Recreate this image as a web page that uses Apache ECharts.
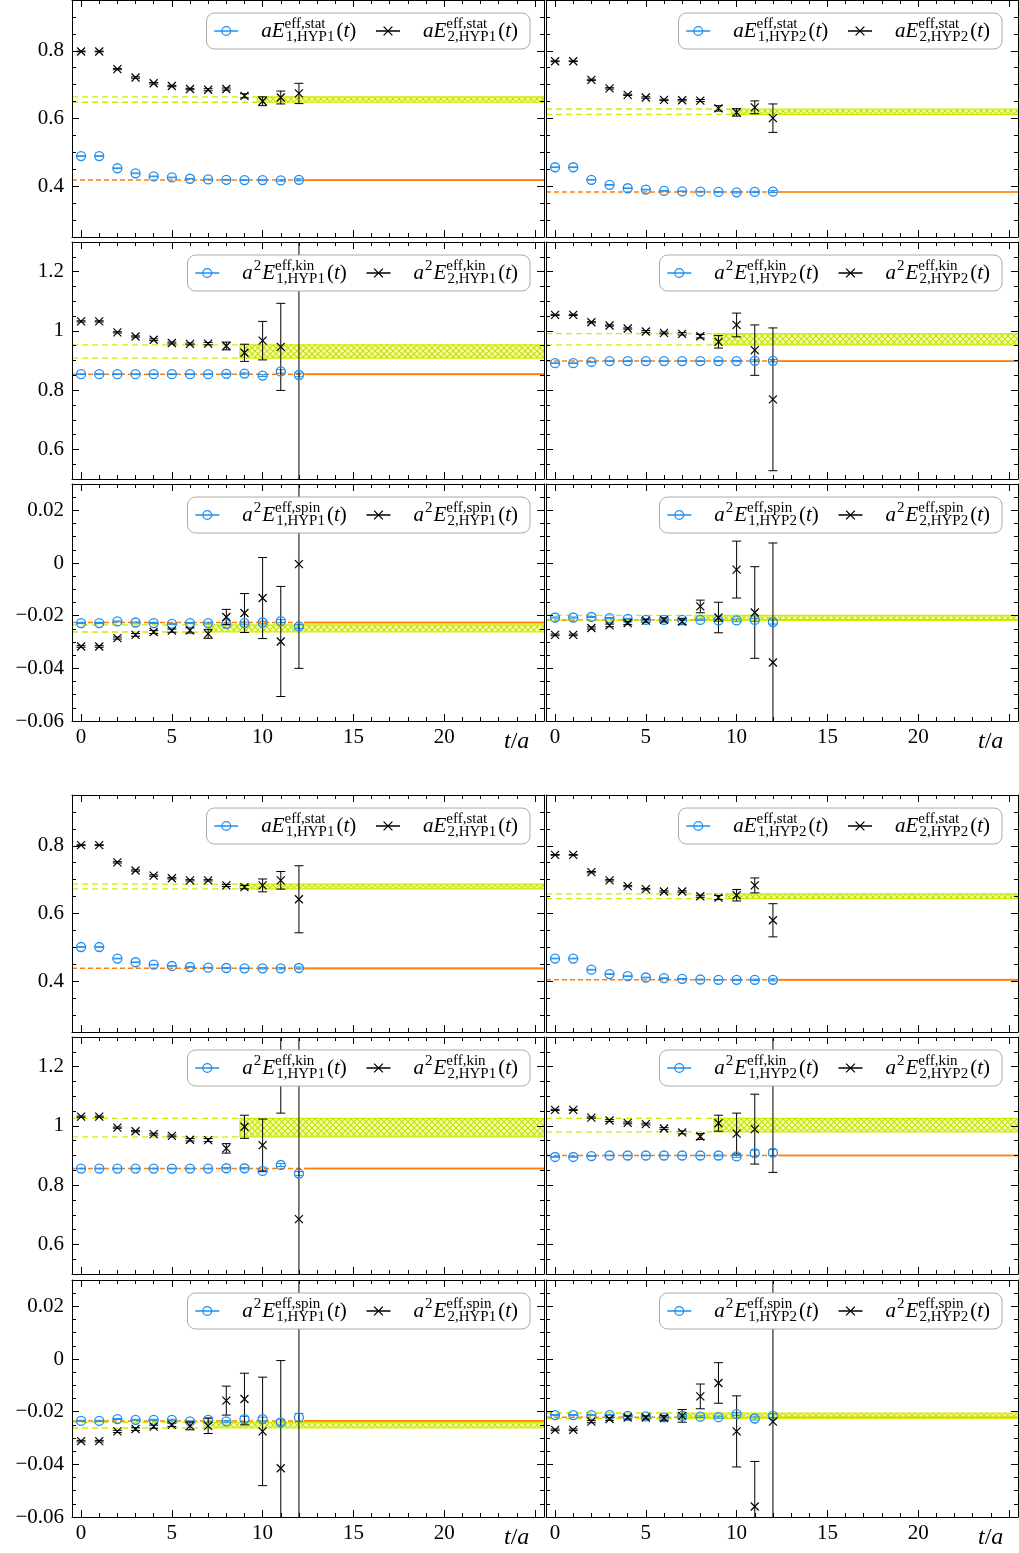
<!DOCTYPE html>
<html>
<head>
<meta charset="utf-8">
<title>Effective energies</title>
<script src="https://cdn.jsdelivr.net/npm/echarts@6.0.0/dist/echarts.min.js"></script>
<style>
html,body{margin:0;padding:0;background:#fff;}
#chart{width:1019px;height:1553px;}
</style>
</head>
<body>
<div id="chart"></div>
<script>
// ---------------- data ----------------
const T = [0,1,2,3,4,5,6,7,8,9,10,11,12];
const xMajor = [0,5,10,15,20,25];
const xMinor = [1,2,3,4,6,7,8,9,11,12,13,14,16,17,18,19,21,22,23,24];
const xLabels = [0,5,10,15,20];
const yStatMajor = [0.4,0.6,0.8];
const yStatMinor = [0.3,0.35,0.45,0.5,0.55,0.65,0.7,0.75,0.85,0.9];
const yKinMajor = [0.6,0.8,1.0,1.2];
const yKinMinor = [0.55,0.65,0.7,0.75,0.85,0.9,0.95,1.05,1.1,1.15,1.25];
const ySpinMajor = [-0.06,-0.04,-0.02,0,0.02];
const ySpinMinor = [-0.055,-0.05,-0.045,-0.035,-0.03,-0.025,-0.015,-0.01,-0.005,0.005,0.01,0.015,0.025];

// fits: [start t, centre, low, high]
// ---- upper set ----
const U_statH1_E1    = [0.489,0.489,0.453,0.438,0.429,0.426,0.422,0.420,0.419,0.418,0.418,0.417,0.419];
const U_statH1_E1err = [0.001,0.001,0.001,0.001,0.001,0.001,0.001,0.001,0.001,0.001,0.002,0.002,0.003];
const U_statH1_E2    = [0.798,0.798,0.746,0.721,0.704,0.696,0.687,0.685,0.687,0.667,0.651,0.662,0.674];
const U_statH1_E2err = [0.001,0.001,0.002,0.002,0.002,0.002,0.002,0.003,0.003,0.006,0.013,0.019,0.030];
const U_statH1_fit1  = [12.3, 0.418, 0.417, 0.419];
const U_statH1_fit2  = [9.7, 0.656, 0.648, 0.664];

const U_statH2_E1    = [0.456,0.456,0.419,0.404,0.394,0.390,0.386,0.385,0.384,0.383,0.382,0.383,0.384];
const U_statH2_E1err = [0.001,0.001,0.001,0.001,0.001,0.001,0.001,0.001,0.001,0.001,0.002,0.002,0.003];
const U_statH2_E2    = [0.769,0.769,0.714,0.689,0.670,0.662,0.655,0.654,0.653,0.630,0.618,0.633,0.601];
const U_statH2_E2err = [0.001,0.001,0.002,0.002,0.002,0.002,0.002,0.002,0.003,0.008,0.011,0.019,0.042];
const U_statH2_fit1  = [12.3, 0.383, 0.382, 0.384];
const U_statH2_fit2  = [9.7, 0.620, 0.612, 0.628];

const U_kinH1_E1     = [0.854,0.854,0.854,0.854,0.854,0.854,0.854,0.854,0.855,0.856,0.849,0.863,0.851];
const U_kinH1_E1err  = [0.001,0.001,0.001,0.001,0.001,0.001,0.001,0.001,0.002,0.002,0.003,0.006,0.006];
const U_kinH1_E2     = [1.032,1.032,0.995,0.981,0.970,0.959,0.956,0.957,0.949,0.926,0.967,0.946,1.190];
const U_kinH1_E2err  = [0.002,0.002,0.002,0.002,0.003,0.003,0.003,0.004,0.013,0.029,0.065,0.147,0.750];
const U_kinH1_fit1   = [12.3, 0.854, 0.853, 0.855];
const U_kinH1_fit2   = [8.75, 0.930, 0.908, 0.953];

const U_kinH2_E1     = [0.891,0.891,0.895,0.898,0.898,0.898,0.898,0.898,0.898,0.898,0.898,0.899,0.899];
const U_kinH2_E1err  = [0.001,0.001,0.001,0.001,0.001,0.001,0.001,0.001,0.001,0.002,0.002,0.003,0.004];
const U_kinH2_E2     = [1.054,1.054,1.029,1.018,1.008,0.998,0.993,0.990,0.982,0.963,1.020,0.935,0.769];
const U_kinH2_E2err  = [0.002,0.002,0.002,0.002,0.002,0.003,0.003,0.004,0.006,0.021,0.040,0.085,0.241];
const U_kinH2_fit1   = [12.3, 0.898, 0.897, 0.899];
const U_kinH2_fit2   = [8.75, 0.972, 0.953, 0.991];

const U_spinH1_E1    = [-0.0228,-0.0228,-0.0222,-0.0226,-0.0228,-0.0231,-0.0228,-0.0228,-0.0231,-0.0228,-0.0226,-0.0221,-0.0241];
const U_spinH1_E1err = [0.0002,0.0002,0.0002,0.0002,0.0002,0.0002,0.0002,0.0003,0.0003,0.0004,0.0005,0.0006,0.0008];
const U_spinH1_E2    = [-0.0317,-0.0317,-0.0285,-0.0273,-0.0262,-0.0257,-0.0256,-0.0269,-0.0205,-0.0190,-0.0133,-0.0298,-0.0004];
const U_spinH1_E2err = [0.0003,0.0003,0.0004,0.0005,0.0006,0.0006,0.0010,0.0017,0.0029,0.0074,0.0154,0.0209,0.0396];
const U_spinH1_fit1  = [12.3, -0.0226, -0.0229, -0.0223];
const U_spinH1_fit2  = [7.0, -0.0249, -0.0262, -0.0235];

const U_spinH2_E1    = [-0.0207,-0.0207,-0.0205,-0.0209,-0.0212,-0.0216,-0.0216,-0.0216,-0.0216,-0.0218,-0.0218,-0.0216,-0.0224];
const U_spinH2_E1err = [0.0002,0.0002,0.0002,0.0002,0.0002,0.0002,0.0002,0.0003,0.0003,0.0004,0.0005,0.0006,0.0008];
const U_spinH2_E2    = [-0.0273,-0.0273,-0.0247,-0.0237,-0.0228,-0.0219,-0.0216,-0.0222,-0.0165,-0.0207,-0.0025,-0.0188,-0.0378];
const U_spinH2_E2err = [0.0003,0.0003,0.0004,0.0005,0.0006,0.0006,0.0008,0.0012,0.0024,0.0058,0.0108,0.0174,0.0454];
const U_spinH2_fit1  = [12.3, -0.0216, -0.0218, -0.0214];
const U_spinH2_fit2  = [7.7, -0.0209, -0.0218, -0.0199];

// ---- lower set ----
const L_statH1_E1    = [0.501,0.501,0.467,0.456,0.449,0.445,0.442,0.440,0.439,0.438,0.438,0.438,0.439];
const L_statH1_E1err = [0.001,0.001,0.001,0.001,0.001,0.001,0.001,0.001,0.001,0.001,0.002,0.002,0.003];
const L_statH1_E2    = [0.802,0.802,0.751,0.727,0.712,0.704,0.698,0.698,0.683,0.678,0.683,0.698,0.642];
const L_statH1_E2err = [0.001,0.001,0.002,0.002,0.002,0.002,0.002,0.002,0.003,0.005,0.019,0.026,0.099];
const L_statH1_fit1  = [12.3, 0.438, 0.437, 0.439];
const L_statH1_fit2  = [8.75, 0.680, 0.673, 0.687];

const L_statH2_E1    = [0.467,0.467,0.434,0.421,0.415,0.411,0.409,0.407,0.405,0.404,0.404,0.404,0.404];
const L_statH2_E1err = [0.001,0.001,0.001,0.001,0.001,0.001,0.001,0.001,0.001,0.001,0.002,0.002,0.003];
const L_statH2_E2    = [0.773,0.773,0.722,0.698,0.681,0.672,0.665,0.665,0.651,0.647,0.654,0.683,0.580];
const L_statH2_E2err = [0.001,0.001,0.002,0.002,0.002,0.002,0.002,0.002,0.003,0.006,0.017,0.022,0.049];
const L_statH2_fit1  = [12.3, 0.404, 0.403, 0.405];
const L_statH2_fit2  = [9.4, 0.651, 0.644, 0.658];

const L_kinH1_E1     = [0.856,0.856,0.856,0.856,0.856,0.856,0.856,0.856,0.857,0.857,0.848,0.868,0.839];
const L_kinH1_E1err  = [0.001,0.001,0.001,0.001,0.001,0.001,0.001,0.001,0.002,0.002,0.003,0.005,0.007];
const L_kinH1_E2     = [1.031,1.031,0.994,0.982,0.972,0.966,0.953,0.952,0.924,0.997,0.935,1.200,0.685];
const L_kinH1_E2err  = [0.002,0.002,0.002,0.002,0.003,0.003,0.004,0.005,0.016,0.039,0.088,0.157,0.750];
const L_kinH1_fit1   = [12.3, 0.856, 0.855, 0.857];
const L_kinH1_fit2   = [8.75, 0.994, 0.963, 1.025];

const L_kinH2_E1     = [0.895,0.895,0.898,0.900,0.900,0.900,0.900,0.900,0.900,0.900,0.897,0.908,0.910];
const L_kinH2_E1err  = [0.001,0.001,0.001,0.001,0.001,0.001,0.001,0.001,0.001,0.002,0.003,0.010,0.010];
const L_kinH2_E2     = [1.054,1.054,1.028,1.018,1.010,1.006,0.991,0.978,0.964,1.009,0.974,0.989,1.190];
const L_kinH2_E2err  = [0.002,0.002,0.002,0.003,0.003,0.003,0.003,0.005,0.010,0.027,0.069,0.118,0.347];
const L_kinH2_fit1   = [12.3, 0.900, 0.899, 0.901];
const L_kinH2_fit2   = [8.75, 1.0025, 0.980, 1.025];

const L_spinH1_E1    = [-0.0235,-0.0235,-0.0228,-0.0231,-0.0231,-0.0231,-0.0237,-0.0231,-0.0237,-0.0228,-0.0228,-0.0241,-0.0222];
const L_spinH1_E1err = [0.0002,0.0002,0.0002,0.0002,0.0002,0.0002,0.0002,0.0008,0.0003,0.0010,0.0007,0.0010,0.0015];
const L_spinH1_E2    = [-0.0312,-0.0312,-0.0275,-0.0266,-0.0257,-0.0250,-0.0254,-0.0254,-0.0158,-0.0152,-0.0275,-0.0415,0.0180];
const L_spinH1_E2err = [0.0003,0.0003,0.0004,0.0005,0.0006,0.0006,0.0015,0.0029,0.0055,0.0098,0.0206,0.0409,0.1000];
const L_spinH1_fit1  = [12.3, -0.0235, -0.0237, -0.0233];
const L_spinH1_fit2  = [6.75, -0.0252, -0.0262, -0.0241];

const L_spinH2_E1    = [-0.0213,-0.0213,-0.0213,-0.0213,-0.0216,-0.0218,-0.0222,-0.0216,-0.0219,-0.0221,-0.0209,-0.0226,-0.0216];
const L_spinH2_E1err = [0.0002,0.0002,0.0002,0.0002,0.0002,0.0002,0.0002,0.0003,0.0003,0.0004,0.0005,0.0006,0.0008];
const L_spinH2_E2    = [-0.0269,-0.0269,-0.0238,-0.0228,-0.0222,-0.0222,-0.0224,-0.0216,-0.0142,-0.0091,-0.0275,-0.0560,-0.0238];
const L_spinH2_E2err = [0.0003,0.0003,0.0004,0.0005,0.0006,0.0006,0.0010,0.0024,0.0047,0.0077,0.0135,0.0171,0.2000];
const L_spinH2_fit1  = [12.3, -0.0221, -0.0223, -0.0219];
const L_spinH2_fit2  = [6.75, -0.0215, -0.0226, -0.0205];

// ---------------- panel table ----------------
const panels = [
  {row:0,col:0,kind:'stat',hyp:'HYP1',E1:U_statH1_E1,E1e:U_statH1_E1err,E2:U_statH1_E2,E2e:U_statH1_E2err,f1:U_statH1_fit1,f2:U_statH1_fit2},
  {row:0,col:1,kind:'stat',hyp:'HYP2',E1:U_statH2_E1,E1e:U_statH2_E1err,E2:U_statH2_E2,E2e:U_statH2_E2err,f1:U_statH2_fit1,f2:U_statH2_fit2},
  {row:1,col:0,kind:'kin', hyp:'HYP1',E1:U_kinH1_E1,E1e:U_kinH1_E1err,E2:U_kinH1_E2,E2e:U_kinH1_E2err,f1:U_kinH1_fit1,f2:U_kinH1_fit2},
  {row:1,col:1,kind:'kin', hyp:'HYP2',E1:U_kinH2_E1,E1e:U_kinH2_E1err,E2:U_kinH2_E2,E2e:U_kinH2_E2err,f1:U_kinH2_fit1,f2:U_kinH2_fit2},
  {row:2,col:0,kind:'spin',hyp:'HYP1',E1:U_spinH1_E1,E1e:U_spinH1_E1err,E2:U_spinH1_E2,E2e:U_spinH1_E2err,f1:U_spinH1_fit1,f2:U_spinH1_fit2},
  {row:2,col:1,kind:'spin',hyp:'HYP2',E1:U_spinH2_E1,E1e:U_spinH2_E1err,E2:U_spinH2_E2,E2e:U_spinH2_E2err,f1:U_spinH2_fit1,f2:U_spinH2_fit2},
  {row:3,col:0,kind:'stat',hyp:'HYP1',E1:L_statH1_E1,E1e:L_statH1_E1err,E2:L_statH1_E2,E2e:L_statH1_E2err,f1:L_statH1_fit1,f2:L_statH1_fit2},
  {row:3,col:1,kind:'stat',hyp:'HYP2',E1:L_statH2_E1,E1e:L_statH2_E1err,E2:L_statH2_E2,E2e:L_statH2_E2err,f1:L_statH2_fit1,f2:L_statH2_fit2},
  {row:4,col:0,kind:'kin', hyp:'HYP1',E1:L_kinH1_E1,E1e:L_kinH1_E1err,E2:L_kinH1_E2,E2e:L_kinH1_E2err,f1:L_kinH1_fit1,f2:L_kinH1_fit2},
  {row:4,col:1,kind:'kin', hyp:'HYP2',E1:L_kinH2_E1,E1e:L_kinH2_E1err,E2:L_kinH2_E2,E2e:L_kinH2_E2err,f1:L_kinH2_fit1,f2:L_kinH2_fit2},
  {row:5,col:0,kind:'spin',hyp:'HYP1',E1:L_spinH1_E1,E1e:L_spinH1_E1err,E2:L_spinH1_E2,E2e:L_spinH1_E2err,f1:L_spinH1_fit1,f2:L_spinH1_fit2},
  {row:5,col:1,kind:'spin',hyp:'HYP2',E1:L_spinH2_E1,E1e:L_spinH2_E1err,E2:L_spinH2_E2,E2e:L_spinH2_E2err,f1:L_spinH2_fit1,f2:L_spinH2_fit2}
];

// ---------------- style / layout ----------------
const FONT = "'Liberation Serif', 'DejaVu Serif', serif";
const BLUE = '#1f8ef1';
const ORANGE = '#ff7f0e';
const YEL = '#d0ec00';
const CAP = 4.5;
const colLeft = [72, 546], colW = 472;
const rowTop = [0, 242, 484, 795, 1037, 1280], rowH = 237;
const yCfg = {
  stat: {min:0.25, max:0.95, major:yStatMajor, minor:yStatMinor},
  kin:  {min:0.5,  max:1.3,  major:yKinMajor,  minor:yKinMinor},
  spin: {min:-0.06,max:0.03, major:ySpinMajor, minor:ySpinMinor}
};

function fmt(v) { return String(Math.round(v * 1000) / 1000).replace('-', '\u2212'); }

// hatch pattern for the second-state band
const hatch = document.createElement('canvas');
hatch.width = 6; hatch.height = 6;
(function () {
  const g = hatch.getContext('2d');
  g.fillStyle = 'rgba(235,250,110,0.55)';
  g.fillRect(0, 0, 6, 6);
  g.strokeStyle = '#c6e200';
  g.lineWidth = 1.1;
  g.beginPath();
  g.moveTo(0, 0); g.lineTo(6, 6);
  g.moveTo(6, 0); g.lineTo(0, 6);
  g.stroke();
})();

function renderOrange(params, api) {
  const cs = params.coordSys;
  const s = api.value(0), c = api.value(1), lo = api.value(2), hi = api.value(3);
  const pc = api.coord([s, c]);
  const ylo = api.coord([s, lo])[1], yhi = api.coord([s, hi])[1];
  const xL = cs.x, xR = cs.x + cs.width, xs = pc[0], yc = pc[1];
  return {type:'group', children:[
    {type:'line', shape:{x1:xL, y1:yc, x2:xs, y2:yc}, style:{stroke:ORANGE, lineWidth:1.5, lineDash:[5,3]}},
    {type:'rect', shape:{x:xs, y:Math.min(yhi, yc - 1), width:xR - xs, height:Math.max(ylo - yhi, 2)}, style:{fill:ORANGE, opacity:0.45}},
    {type:'line', shape:{x1:xs, y1:yc, x2:xR, y2:yc}, style:{stroke:ORANGE, lineWidth:1.6}}
  ]};
}

function renderYellow(params, api) {
  const cs = params.coordSys;
  const s = api.value(0), lo = api.value(2), hi = api.value(3);
  const xs = api.coord([s, lo])[0];
  const ylo = api.coord([s, lo])[1], yhi = api.coord([s, hi])[1];
  const xL = cs.x, xR = cs.x + cs.width;
  return {type:'group', children:[
    {type:'line', shape:{x1:xL, y1:yhi, x2:xs, y2:yhi}, style:{stroke:YEL, lineWidth:1.3, lineDash:[6,4]}},
    {type:'line', shape:{x1:xL, y1:ylo, x2:xs, y2:ylo}, style:{stroke:YEL, lineWidth:1.3, lineDash:[6,4]}},
    {type:'rect', shape:{x:xs, y:yhi, width:xR - xs, height:ylo - yhi}, style:{fill:{image:hatch, repeat:'repeat'}, stroke:YEL, lineWidth:1.2}}
  ]};
}

function makeErrRender(color) {
  return function (params, api) {
    const cs = params.coordSys;
    const t = api.value(0), v = api.value(1), e = api.value(2);
    const pHi = api.coord([t, v + e]);
    const pLo = api.coord([t, v - e]);
    const x = pHi[0];
    const yMin = cs.y, yMax = cs.y + cs.height;
    const y1 = Math.max(pHi[1], yMin), y2 = Math.min(pLo[1], yMax);
    if (y1 > yMax || y2 < yMin) return null;
    const ch = [{type:'line', shape:{x1:x, y1:y1, x2:x, y2:y2}, style:{stroke:color, lineWidth:1}}];
    if (pHi[1] >= yMin) ch.push({type:'line', shape:{x1:x - CAP, y1:pHi[1], x2:x + CAP, y2:pHi[1]}, style:{stroke:color, lineWidth:1}});
    if (pLo[1] <= yMax) ch.push({type:'line', shape:{x1:x - CAP, y1:pLo[1], x2:x + CAP, y2:pLo[1]}, style:{stroke:color, lineWidth:1}});
    return {type:'group', children:ch};
  };
}

const rich = {
  a0:  {fontFamily:FONT, fontStyle:'italic', fontSize:21, lineHeight:28, padding:[0,0,0,18], color:'#000'},
  it:  {fontFamily:FONT, fontStyle:'italic', fontSize:21, lineHeight:28, color:'#000'},
  rm:  {fontFamily:FONT, fontSize:21, lineHeight:28, color:'#000'},
  s2:  {fontFamily:FONT, fontSize:15, lineHeight:14, verticalAlign:'top', padding:[0,1,0,1], color:'#000'},
  sup: {fontFamily:FONT, fontSize:15, lineHeight:14, verticalAlign:'top', width:0.1, color:'#000'},
  sub: {fontFamily:FONT, fontSize:15, lineHeight:22, verticalAlign:'bottom', padding:[0,2,0,1], color:'#000'}
};

function legendLabel(kind, state, hyp) {
  const pre = kind === 'stat' ? '{a0|a}' : '{a0|a}{s2|2}';
  return pre + '{it|E}{sup|eff,' + kind + '}{sub|' + state + ',' + hyp + '}{rm|(}{it|t}{rm|)}';
}

const labelMap = {};
const option = {
  animation:false, backgroundColor:'#fff',
  grid:[], xAxis:[], yAxis:[], legend:[], series:[]
};

function mkX(p, pos, major, labels) {
  return {
    type:'value', gridIndex:p, position:pos, min:-0.5, max:25.5, z:5, silent:true,
    axisLine:{show:major, onZero:false, lineStyle:{color:'#000', width:1}},
    axisTick:{show:true, inside:true, length:major ? 7 : 4, customValues:major ? xMajor : xMinor, lineStyle:{color:'#000', width:1}},
    splitLine:{show:false}, minorTick:{show:false},
    axisLabel:{show:labels, customValues:xLabels, margin:6, color:'#000', fontFamily:FONT, fontSize:21, formatter:fmt},
    name: labels ? '{i|t}{r|/}{i|a}' : '',
    nameLocation:'end', nameGap:-40,
    nameTextStyle:{verticalAlign:'top', padding:[9,0,0,0], fontFamily:FONT, fontSize:24, color:'#000',
      rich:{i:{fontFamily:FONT, fontStyle:'italic', fontSize:24, color:'#000'}, r:{fontFamily:FONT, fontSize:24, color:'#000'}}}
  };
}
function mkY(p, pos, major, labels, cfg) {
  return {
    type:'value', gridIndex:p, position:pos, min:cfg.min, max:cfg.max, z:5, silent:true,
    axisLine:{show:major, onZero:false, lineStyle:{color:'#000', width:1}},
    axisTick:{show:true, inside:true, length:major ? 7 : 4, customValues:major ? cfg.major : cfg.minor, lineStyle:{color:'#000', width:1}},
    splitLine:{show:false}, minorTick:{show:false},
    axisLabel:{show:labels, customValues:cfg.major, margin:8, color:'#000', fontFamily:FONT, fontSize:21, formatter:fmt}
  };
}

panels.forEach(function (P, p) {
  const cfg = yCfg[P.kind];
  const bottomRow = P.row === 2 || P.row === 5;
  option.grid.push({left:colLeft[P.col], top:rowTop[P.row], width:colW, height:rowH});
  option.xAxis.push(mkX(p, 'bottom', true, bottomRow));
  option.xAxis.push(mkX(p, 'bottom', false, false));
  option.xAxis.push(mkX(p, 'top', true, false));
  option.xAxis.push(mkX(p, 'top', false, false));
  option.yAxis.push(mkY(p, 'left', true, P.col === 0, cfg));
  option.yAxis.push(mkY(p, 'left', false, false, cfg));
  option.yAxis.push(mkY(p, 'right', true, false, cfg));
  option.yAxis.push(mkY(p, 'right', false, false, cfg));

  const n1 = 'E1 ' + P.kind + ' ' + P.hyp;
  const n2 = 'E2 ' + P.kind + ' ' + P.hyp;
  labelMap[n1] = legendLabel(P.kind, '1', P.hyp);
  labelMap[n2] = legendLabel(P.kind, '2', P.hyp);
  const ax = {xAxisIndex:4 * p, yAxisIndex:4 * p};

  option.series.push(Object.assign({type:'custom', name:'fit1-' + p, renderItem:renderOrange, dimensions:['s','c','lo','hi'], encode:{x:0, y:1}, data:[P.f1], z:1, silent:true}, ax));
  option.series.push(Object.assign({type:'custom', name:'fit2-' + p, renderItem:renderYellow, dimensions:['s','c','lo','hi'], encode:{x:0, y:1}, data:[P.f2], z:2, silent:true}, ax));
  option.series.push(Object.assign({type:'line', name:n1, data:T.map(function (t, i) { return [t, P.E1[i]]; }),
    symbol:'circle', symbolSize:9, showSymbol:true, showAllSymbol:true,
    itemStyle:{color:'transparent', borderColor:BLUE, borderWidth:1.3},
    lineStyle:{width:0, color:BLUE}, z:3, silent:true}, ax));
  option.series.push(Object.assign({type:'custom', name:'err1-' + p, renderItem:makeErrRender(BLUE), dimensions:['t','v','e'], encode:{x:0, y:1},
    data:T.map(function (t, i) { return [t, P.E1[i], P.E1e[i]]; }), z:3, silent:true}, ax));
  option.series.push(Object.assign({type:'line', name:n2, data:T.map(function (t, i) { return [t, P.E2[i]]; }),
    symbol:'path://M0,0L10,10M10,0L0,10', symbolSize:8, showSymbol:true, showAllSymbol:true,
    itemStyle:{color:'transparent', borderColor:'#000', borderWidth:1.2},
    lineStyle:{width:0, color:'#000'}, z:3, silent:true}, ax));
  option.series.push(Object.assign({type:'custom', name:'err2-' + p, renderItem:makeErrRender('#000'), dimensions:['t','v','e'], encode:{x:0, y:1},
    data:T.map(function (t, i) { return [t, P.E2[i], P.E2e[i]]; }), z:3, silent:true}, ax));

  option.legend.push({
    show:true, z:10, selectedMode:false, orient:'horizontal',
    right: P.col === 0 ? 489 : 17, top: rowTop[P.row] + 13,
    data:[n1, n2],
    itemWidth:24, itemHeight:11, itemGap:19,
    padding:[4, 12, 4, 7],
    backgroundColor:'#fff', borderColor:'#aaaaaa', borderWidth:1, borderRadius:8,
    lineStyle:{width:1.5},
    itemStyle:{borderWidth:1.3},
    formatter:function (name) { return labelMap[name]; },
    textStyle:{fontFamily:FONT, fontSize:21, color:'#000', rich:rich}
  });
});

const chart = echarts.init(document.getElementById('chart'), null, {renderer:'canvas'});
chart.setOption(option);
</script>
</body>
</html>
